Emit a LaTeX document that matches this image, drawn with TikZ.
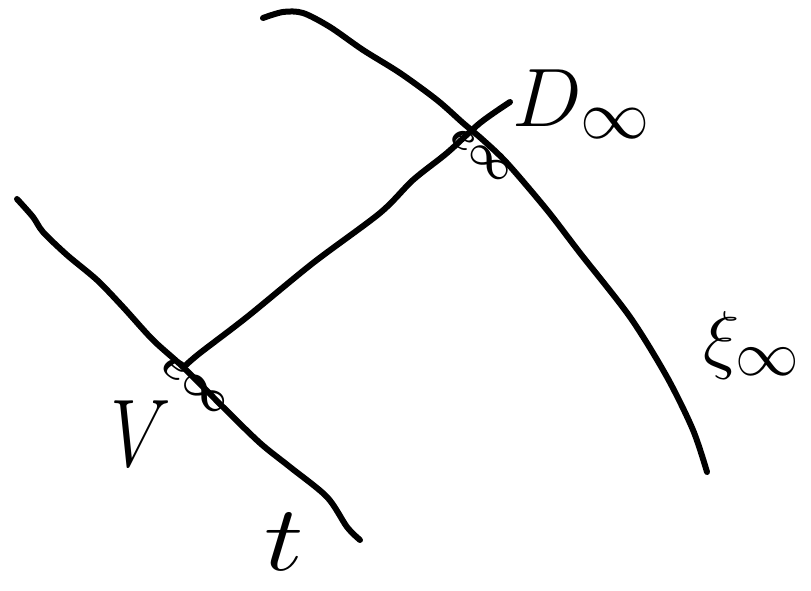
\documentclass[tikz,border=0pt]{standalone}
\usepackage{bm}
\begin{document}
\begin{tikzpicture}[x=0.75pt,y=-0.75pt]
\tikzset{stroke/.style={line width=4.5pt,line cap=round,line join=round},
  lbl/.style={inner sep=0pt,anchor=center,font=\Huge}}
\path[use as bounding box] (0,0) rectangle (811,591);
\draw[stroke] plot[smooth,tension=0.5] coordinates {(263,18) (283,12) (303,13) (330,27) (363,50) (400,73) (437,100) (463,123) (483,140) (507,163) (547,210) (580,253) (630,317) (667,377) (693,430) (707,472)};
\draw[stroke] plot[smooth,tension=0.5] coordinates {(17,199) (33,217) (43,232) (67,255) (97,280) (123,307) (153,340) (183,367) (223,407) (260,443) (290,467) (327,497) (347,527) (360,540)};
\coordinate (a) at (186,365);
\coordinate (b) at (510,102);
\draw[stroke] plot[smooth,tension=0.5] coordinates {(186,365) (200,353) (247,317) (313,263) (380,213) (413,180) (447,153) (480,123) (510,102)};
\node[lbl,rotate=-40,scale=1.25] (m1) at (481,155) {$\bm{e\infty}$};
\node[lbl,rotate=-40,scale=1.35] (m2) at (195,385) {$\bm{e\infty}$};
\node[lbl,scale=2.5] (d) at (582,104) {$D_{\infty}$};
\node[lbl,scale=2.9,xscale=0.8] (v) at (141,434) {$V$};
\node[lbl,scale=2.8,xscale=1.2] (t) at (284,542) {$t$};
\node[lbl,scale=2.3] (x) at (752,345) {$\xi_{\infty}$};
\end{tikzpicture}
\end{document}
